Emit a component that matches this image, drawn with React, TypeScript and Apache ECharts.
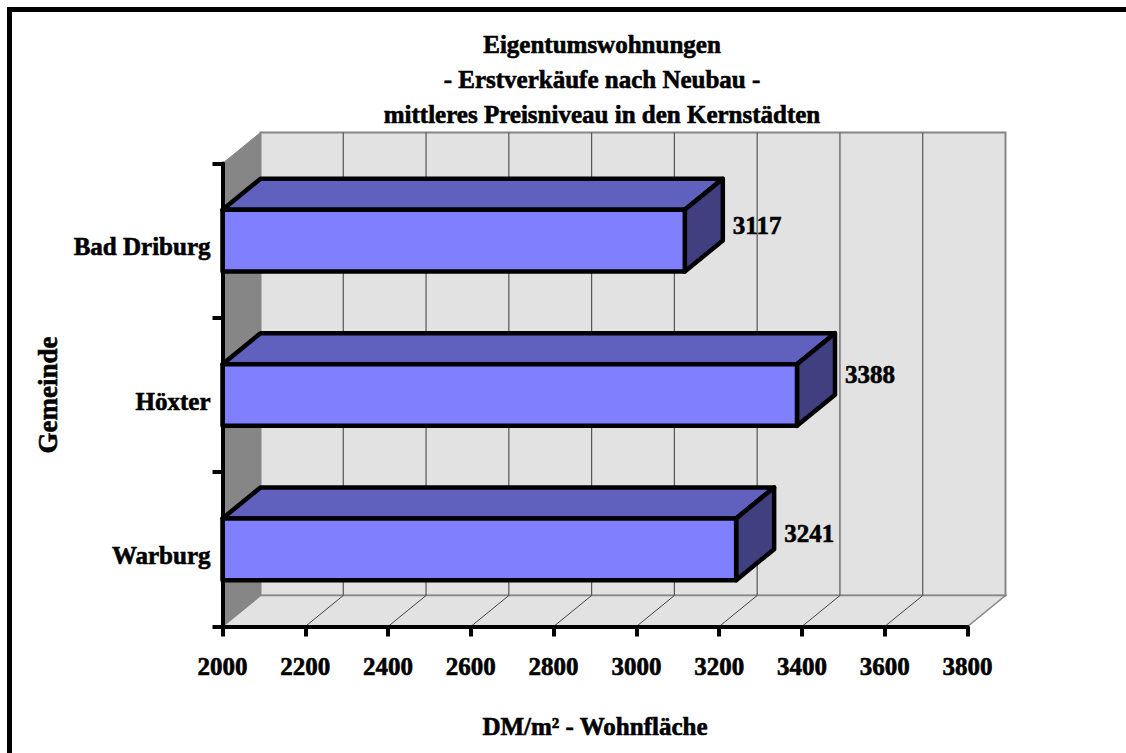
import React, { useEffect, useRef } from "react";
import * as echarts from "echarts";

const categories = ["Warburg", "Höxter", "Bad Driburg"];
const values = [3241, 3388, 3117];
const ticks = [2000, 2200, 2400, 2600, 2800, 3000, 3200, 3400, 3600, 3800];
const titleLines = ["Eigentumswohnungen", "- Erstverkäufe nach Neubau -", "mittleres Preisniveau in den Kernstädten"];
const xName = "DM/m² - Wohnfläche";
const yName = "Gemeinde";

const FONT = "'Liberation Serif', 'Times New Roman', serif";
const DX = 38;
const DY = -31;
const valueLabelNudge = [0, -5, 0];
const HEAVY = { textBorderColor: "#000", textBorderWidth: 0.6 };
const HEAVY_GRAPHIC = { stroke: "#000", lineWidth: 0.6 };

function wallItem(params: any, api: any) {
  const v = api.value(0);
  const [x] = api.coord([v, 0]);
  const top = params.coordSys.y;
  const bottom = params.coordSys.y + params.coordSys.height;
  const left = params.coordSys.x;
  const right = left + params.coordSys.width;
  const children: any[] = [];
  if (params.dataIndex === 0) {
    children.push(
      {
        type: "polygon",
        shape: { points: [[left, top], [left + DX, top + DY], [left + DX, bottom + DY], [left, bottom]] },
        style: { fill: "#868686", stroke: "#868686", lineWidth: 1 },
      },
      {
        type: "polygon",
        shape: { points: [[left + DX, top + DY], [right + DX, top + DY], [right + DX, bottom + DY], [left + DX, bottom + DY]] },
        style: { fill: "#e2e2e2", stroke: "#868686", lineWidth: 2 },
      },
      {
        type: "polygon",
        shape: { points: [[left, bottom], [left + DX, bottom + DY], [right + DX, bottom + DY], [right, bottom]] },
        style: { fill: "#e2e2e2", stroke: "#868686", lineWidth: 1.5 },
      },
    );
  } else if (params.dataIndex < ticks.length - 1) {
    children.push(
      { type: "line", shape: { x1: x + DX, y1: top + DY, x2: x + DX, y2: bottom + DY }, style: { stroke: "#555555", lineWidth: 1.2 } },
      { type: "line", shape: { x1: x, y1: bottom, x2: x + DX, y2: bottom + DY }, style: { stroke: "#444444", lineWidth: 1 } },
    );
  }
  return { type: "group", children };
}

function barItem(params: any, api: any) {
  const cat = api.value(0);
  const val = api.value(1);
  const [x0, yc] = api.coord([2000, cat]);
  const [x1] = api.coord([val, cat]);
  const band = api.size([0, 1])[1];
  const h = band * 0.4;
  const y0 = yc - h / 2;
  const y1 = yc + h / 2;
  const line = { stroke: "#000000", lineWidth: 4.5, lineJoin: "round" };
  return {
    type: "group",
    children: [
      {
        type: "polygon",
        shape: { points: [[x0, y0], [x0 + DX, y0 + DY], [x1 + DX, y0 + DY], [x1, y0]] },
        style: { fill: "#6060bf", ...line },
      },
      {
        type: "polygon",
        shape: { points: [[x1, y0], [x1 + DX, y0 + DY], [x1 + DX, y1 + DY], [x1, y1]] },
        style: { fill: "#404080", ...line },
      },
      {
        type: "rect",
        shape: { x: x0, y: y0, width: x1 - x0, height: h },
        style: { fill: "#8080ff", ...line },
      },
      {
        type: "text",
        x: x1 + DX + 10,
        y: (y0 + y1 + DY) / 2 + valueLabelNudge[params.dataIndex],
        style: { text: String(val), fill: "#000", font: `bold 25px ${FONT}`, textAlign: "left", textVerticalAlign: "middle", ...HEAVY_GRAPHIC },
      },
    ],
  };
}

export default function App() {
  const ref = useRef<HTMLDivElement>(null);
  useEffect(() => {
    document.body.style.margin = "0";
    document.body.style.background = "#ffffff";
    const chart = echarts.init(ref.current!, undefined, { renderer: "svg" });
    chart.setOption({
      animation: false,
      backgroundColor: "#ffffff",
      grid: { left: 222.5, top: 163.5, width: 745, height: 463, containLabel: false },
      xAxis: {
        type: "value",
        min: 2000,
        max: 3800,
        interval: 200,
        name: xName,
        nameLocation: "middle",
        nameGap: 87,
        nameTextStyle: { fontFamily: FONT, fontWeight: "bold", fontSize: 25, color: "#000", ...HEAVY },
        axisLine: { show: true, lineStyle: { color: "#000", width: 4 } },
        axisTick: { show: true, inside: false, length: 10, lineStyle: { color: "#000", width: 4 } },
        axisLabel: { margin: 27, formatter: (v: number) => String(v), fontFamily: FONT, fontWeight: "bold", fontSize: 25, color: "#000", ...HEAVY },
        splitLine: { show: false },
        z: 5,
      },
      yAxis: {
        type: "category",
        data: categories,
        boundaryGap: true,
        name: yName,
        nameLocation: "middle",
        nameGap: 161,
        nameRotate: 90,
        nameTextStyle: { fontFamily: FONT, fontWeight: "bold", fontSize: 27, color: "#000", ...HEAVY },
        axisLine: { show: true, lineStyle: { color: "#000", width: 4 } },
        axisTick: { show: true, alignWithLabel: false, length: 10, lineStyle: { color: "#000", width: 4 } },
        axisLabel: { margin: 12, verticalAlign: "top", lineHeight: 12, fontFamily: FONT, fontWeight: "bold", fontSize: 25, color: "#000", ...HEAVY },
        z: 5,
      },
      graphic: [
        {
          type: "rect",
          shape: { x: 9.5, y: 9.5, width: 1200, height: 800 },
          style: { fill: "transparent", stroke: "#000", lineWidth: 5 },
          z: 100,
        },
        ...titleLines.map((t, i) => ({
          type: "text",
          x: 602,
          y: 44 + i * 35,
          style: { text: t, fill: "#000", font: `bold 25px ${FONT}`, textAlign: "center", textVerticalAlign: "middle", ...HEAVY_GRAPHIC },
          z: 100,
        })),
      ],
      series: [
        {
          type: "custom",
          renderItem: wallItem,
          data: ticks.map((t) => [t, 0]),
          encode: { x: 0 },
          clip: false,
          silent: true,
          z: 1,
        },
        {
          type: "custom",
          renderItem: barItem,
          data: categories.map((_, i) => [i, values[i]]),
          encode: { y: 0, x: 1 },
          clip: false,
          silent: true,
          z: 3,
        },
      ],
    });
    return () => chart.dispose();
  }, []);
  return <div ref={ref} style={{ width: 1126, height: 753 }} />;
}
